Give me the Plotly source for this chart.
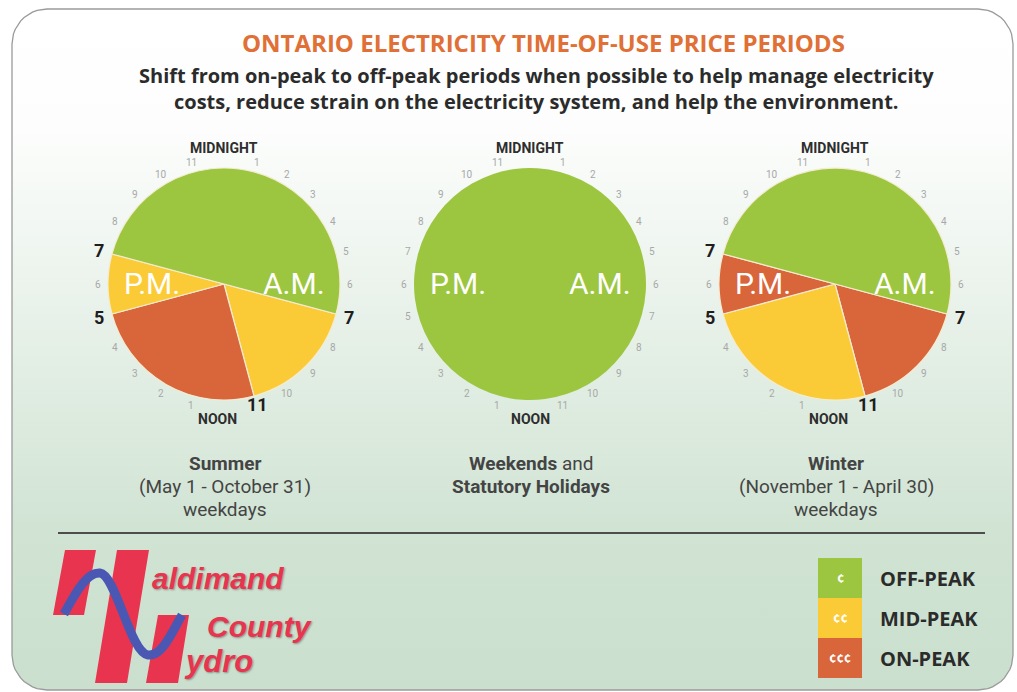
import numpy as np
import plotly.graph_objects as go

W, H = 1017, 692

# ---------------- data ----------------
periods = ["OFF-PEAK", "MID-PEAK", "ON-PEAK"]
period_colors = {"OFF-PEAK": "#9dc640", "MID-PEAK": "#fbcb37", "ON-PEAK": "#d9653b"}
period_symbols = {"OFF-PEAK": "¢", "MID-PEAK": "¢¢", "ON-PEAK": "¢¢¢"}

# slices start at 7 a.m. and run clockwise round a 24-hour clock
summer_ranges = ["7 a.m.-11 a.m.", "11 a.m.-5 p.m.", "5 p.m.-7 p.m.", "7 p.m.-7 a.m."]
summer_hours = [4, 6, 2, 12]
summer_periods = ["MID-PEAK", "ON-PEAK", "MID-PEAK", "OFF-PEAK"]

weekend_ranges = ["All day"]
weekend_hours = [24]
weekend_periods = ["OFF-PEAK"]

winter_ranges = ["7 a.m.-11 a.m.", "11 a.m.-5 p.m.", "5 p.m.-7 p.m.", "7 p.m.-7 a.m."]
winter_hours = [4, 6, 2, 12]
winter_periods = ["ON-PEAK", "MID-PEAK", "ON-PEAK", "OFF-PEAK"]

first_slice_start_hour = 7
boundary_hours_weekday = [7, 11, 17, 19]

clock_hours = list(range(24))

captions = [
    ["<b>Summer</b>", "(May 1 - October 31)", "weekdays"],
    ["<b>Weekends</b> and", "<b>Statutory Holidays</b>"],
    ["<b>Winter</b>", "(November 1 - April 30)", "weekdays"],
]

title_text = "ONTARIO ELECTRICITY TIME-OF-USE PRICE PERIODS"
subtitle_lines = ["Shift from on-peak to off-peak periods when possible to help manage electricity",
                  "costs, reduce strain on the electricity system, and help the environment."]

# ---------------- layout geometry ----------------
centers = [(224, 284), (530, 284), (835, 284)]
R = 116

fig = go.Figure()

# card background (gradient) + border
x0, x1, y0, y1, rad = 12, 1013, 9, 690, 35
def arc(cx, cy, a0, a1):
    t = np.radians(np.linspace(a0, a1, 12))
    return cx + rad * np.cos(t), cy + rad * np.sin(t)
pts = [arc(x0 + rad, y0 + rad, 180, 270), arc(x1 - rad, y0 + rad, 270, 360),
       arc(x1 - rad, y1 - rad, 0, 90), arc(x0 + rad, y1 - rad, 90, 180)]
cx_ = np.concatenate([p[0] for p in pts] + [pts[0][0][:1]])
cy_ = np.concatenate([p[1] for p in pts] + [pts[0][1][:1]])
fig.add_trace(go.Scatter(
    x=cx_, y=cy_, mode="lines", fill="toself",
    line=dict(color="#9a9a9a", width=1.3),
    fillgradient=dict(type="vertical",
                      colorscale=[[0, "#cadfce"], [0.24, "#d1e4d4"], [0.82, "#fcfdfc"], [1, "#ffffff"]]),
    hoverinfo="skip", showlegend=False))

# pies
for (cx, cy), ranges, hrs, pers in zip(
        centers,
        [summer_ranges, weekend_ranges, winter_ranges],
        [summer_hours, weekend_hours, winter_hours],
        [summer_periods, weekend_periods, winter_periods]):
    fig.add_trace(go.Pie(
        labels=ranges, values=hrs, sort=False, direction="clockwise",
        rotation=first_slice_start_hour * 15,
        marker=dict(colors=[period_colors[p] for p in pers],
                    line=dict(color="#f4ecd2", width=1.2 if len(hrs) > 1 else 0)),
        textinfo="none", hoverinfo="label+value", showlegend=False,
        domain=dict(x=[(cx - R) / W, (cx + R) / W], y=[1 - (cy + R) / H, 1 - (cy - R) / H]),
    ))

ann = []
def add_text(x, y, text, size, color, family="Open Sans", bold=False, xanchor="center", **kw):
    ann.append(dict(x=x, y=y, xref="x", yref="y", text=text, showarrow=False,
                    xanchor=xanchor, yanchor="middle",
                    font=dict(size=size, color=color, family=family,
                              weight="bold" if bold else "normal", **kw)))

# clock labels
for i, (cx, cy) in enumerate(centers):
    bold_hours = boundary_hours_weekday if i != 1 else []
    for h in clock_hours:
        ang = np.radians(h * 15)
        if h == 0:
            add_text(cx, cy - 136, "MIDNIGHT", 14, "#2e2e2e", "Roboto", True)
            continue
        if h == 12:
            add_text(cx - (7 if 11 in bold_hours else 0), cy + 135, "NOON", 14, "#2e2e2e",
                     "Roboto", True)
            continue
        lab = str(h % 12)
        if h in bold_hours:
            r = 129
            add_text(cx + r * np.sin(ang), cy - r * np.cos(ang) - (4 if h == 11 else 0), lab, 18,
                     "#1e1e1e", "Roboto", True)
        else:
            r = 126
            add_text(cx + r * np.sin(ang), cy - r * np.cos(ang), lab, 10, "#a8a8a8", "Roboto")
    add_text(cx + 70, cy - 1, "A.M.", 30, "#ffffff", "Roboto")
    add_text(cx - 72, cy - 1, "P.M.", 30, "#ffffff", "Roboto")

    for j, line in enumerate(captions[i]):
        add_text(cx + 1, 463 + j * 23, line, 19, "#444444", "Roboto")

# titles
add_text(543, 42, title_text, 24, "#e07036", "Open Sans", True)
add_text(536, 88, "<br>".join(subtitle_lines), 20, "#2b2b2b", "Open Sans", True)

# legend
shapes = []
leg_y = [578, 618, 658]
for p, yy in zip(periods, leg_y):
    shapes.append(dict(type="rect", xref="x", yref="y", x0=818, x1=862, y0=yy - 20, y1=yy + 20,
                       fillcolor=period_colors[p], line=dict(width=0)))
    add_text(840, yy, period_symbols[p], 13, "#ffffff", "Open Sans", True)
    add_text(878, yy, p, 20, "#2b2b2b", "Open Sans", True, xanchor="left")

# separator
shapes.append(dict(type="line", xref="x", yref="y", x0=58, x1=985, y0=533, y1=533,
                   line=dict(color="#4d4d4d", width=2)))

# logo
red = "#e8344e"
for path in ["M 65,550 L 96,550 L 84,615 L 53,615 Z",
             "M 117,550 L 149,550 L 127,683 L 95,683 Z",
             "M 158,615 L 189,615 L 178,683 L 146,683 Z"]:
    shapes.append(dict(type="path", xref="x", yref="y", path=path, fillcolor=red, line=dict(width=0)))
shapes.append(dict(type="path", xref="x", yref="y",
                   path="M 64,614 C 78,588 88,572 100,573 C 116,575 130,652 148,655 C 162,657 172,632 182,615",
                   line=dict(color="#4a58b4", width=9), fillcolor="rgba(0,0,0,0)"))
shadow = "1px 1px 2px rgba(0,0,0,0.35)"
add_text(150, 578, "aldimand", 30, red, "Liberation Sans", True, xanchor="left", style="italic", shadow=shadow)
add_text(205, 626, "County", 30, red, "Liberation Sans", True, xanchor="left", style="italic", shadow=shadow)
add_text(182, 661, "ydro", 31, red, "Liberation Sans", True, xanchor="left", style="italic", shadow=shadow)

fig.update_layout(
    width=W, height=H, margin=dict(l=0, r=0, t=0, b=0),
    paper_bgcolor="#ffffff", plot_bgcolor="rgba(0,0,0,0)",
    xaxis=dict(range=[0, W], visible=False, fixedrange=True),
    yaxis=dict(range=[H, 0], visible=False, fixedrange=True),
    annotations=ann, shapes=shapes, showlegend=False,
)
fig.write_html("out.html", config={"displayModeBar": False},
               post_script="document.body.style.margin='0px';")
